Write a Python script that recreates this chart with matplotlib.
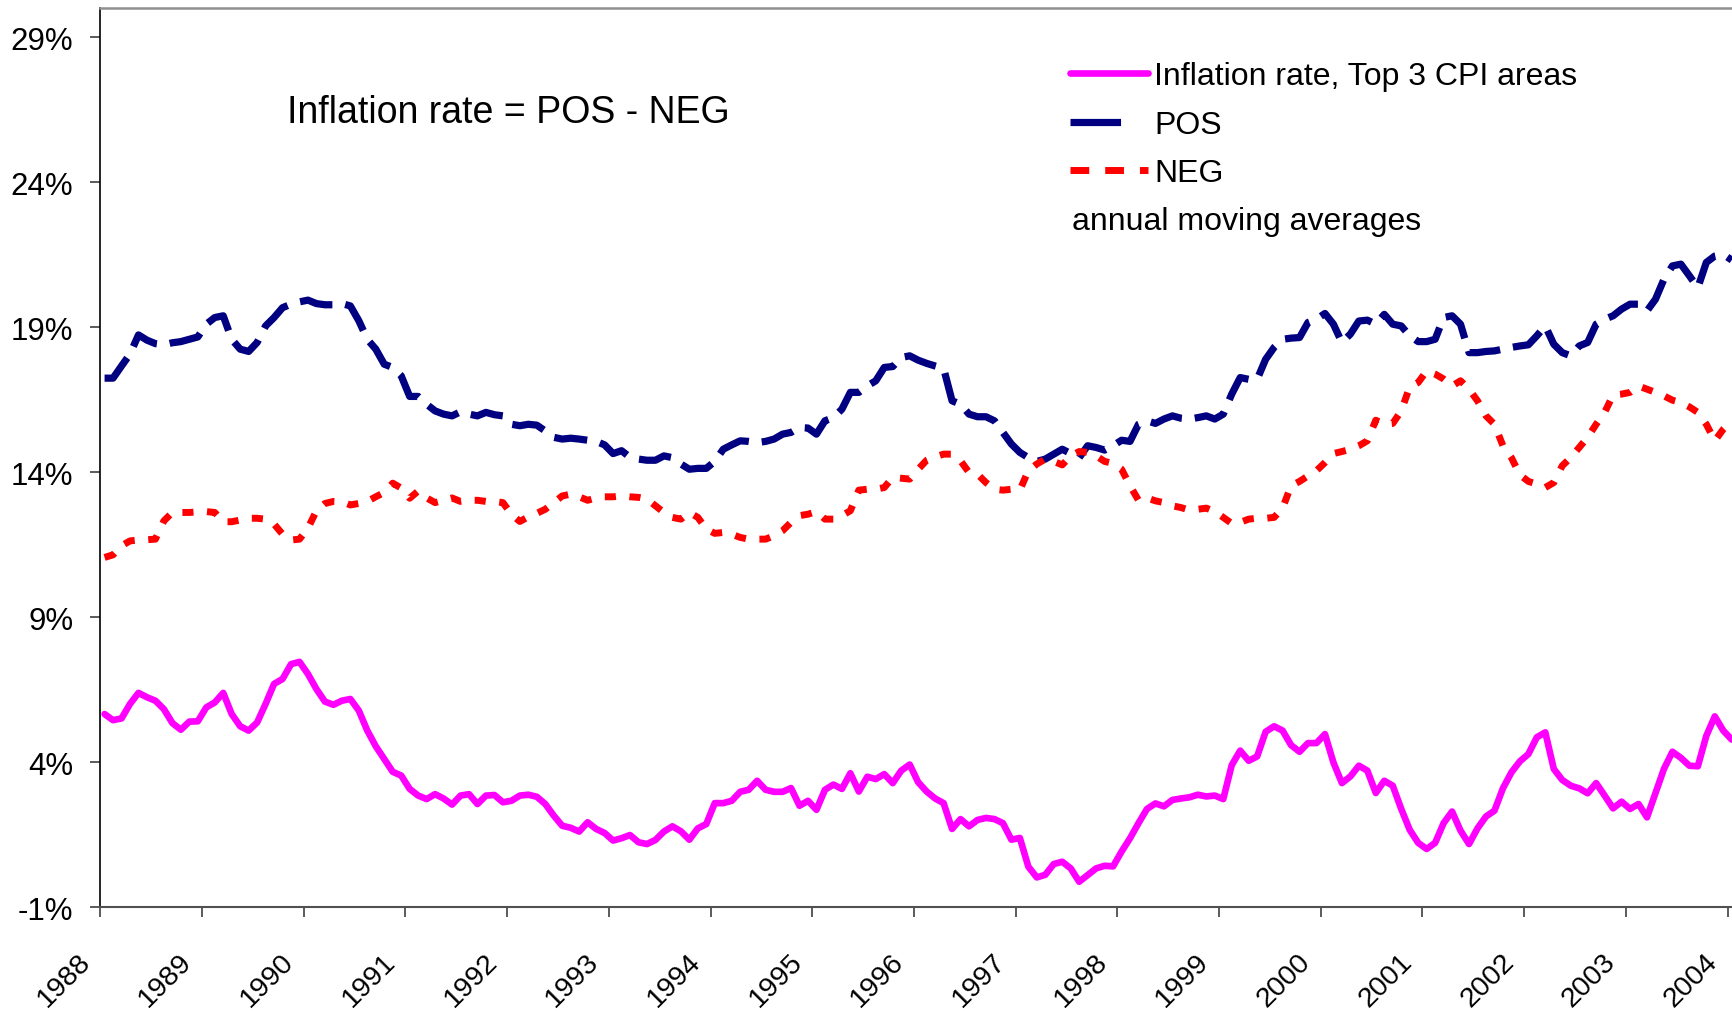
import numpy as np
import matplotlib.pyplot as plt
from matplotlib.lines import Line2D
from matplotlib.transforms import ScaledTranslation

plt.rcParams['font.family'] = ['Liberation Sans', 'DejaVu Sans']

# monthly values, Jan 1988 .. Jan 2004 (percent, annual moving averages)
inflation = [
    5.66, 5.45, 5.51, 6.01, 6.39, 6.24, 6.12, 5.83, 5.35, 5.12, 5.40, 5.41,
    5.89, 6.06, 6.39, 5.66, 5.24, 5.09, 5.37, 6.01, 6.70, 6.87, 7.38, 7.46,
    7.04, 6.52, 6.09, 5.98, 6.12, 6.18, 5.78, 5.09, 4.55, 4.11, 3.67, 3.54,
    3.08, 2.85, 2.73, 2.90, 2.75, 2.54, 2.85, 2.90, 2.56, 2.85, 2.87, 2.62,
    2.67, 2.85, 2.88, 2.81, 2.56, 2.16, 1.81, 1.74, 1.61, 1.93, 1.70, 1.56,
    1.30, 1.38, 1.49, 1.24, 1.18, 1.32, 1.61, 1.79, 1.62, 1.33, 1.72, 1.87,
    2.59, 2.59, 2.67, 2.98, 3.05, 3.36, 3.05, 2.98, 2.98, 3.11, 2.50, 2.67,
    2.36, 3.05, 3.23, 3.08, 3.62, 2.99, 3.50, 3.42, 3.59, 3.28, 3.71, 3.92,
    3.31, 2.99, 2.75, 2.59, 1.70, 2.04, 1.79, 2.01, 2.08, 2.04, 1.90, 1.33,
    1.39, 0.40, 0.03, 0.12, 0.49, 0.57, 0.34, -0.12, 0.11, 0.34, 0.43, 0.41,
    0.92, 1.38, 1.90, 2.39, 2.58, 2.48, 2.70, 2.75, 2.79, 2.88, 2.82, 2.85,
    2.73, 3.90, 4.40, 4.05, 4.20, 5.05, 5.24, 5.09, 4.59, 4.36, 4.66, 4.66,
    4.97, 3.99, 3.28, 3.51, 3.88, 3.71, 2.94, 3.36, 3.19, 2.39, 1.67, 1.22,
    1.01, 1.22, 1.90, 2.30, 1.64, 1.18, 1.72, 2.13, 2.33, 3.10, 3.65, 4.03,
    4.28, 4.86, 5.03, 3.77, 3.39, 3.19, 3.10, 2.93, 3.28, 2.85, 2.41, 2.64,
    2.39, 2.56, 2.10, 2.94, 3.77, 4.36, 4.15, 3.88, 3.86, 4.91, 5.58, 5.09,
    4.78,
]
pos = [
    17.24, 17.24, 17.66, 18.07, 18.73, 18.55, 18.43, 18.39, 18.46, 18.50, 18.58, 18.66,
    19.10, 19.33, 19.39, 18.58, 18.24, 18.16, 18.47, 19.04, 19.33, 19.67, 19.79, 19.87,
    19.93, 19.81, 19.77, 19.77, 19.81, 19.73, 19.22, 18.58, 18.24, 17.72, 17.61, 17.32,
    16.61, 16.61, 16.34, 16.11, 16.00, 15.94, 16.08, 16.00, 15.94, 16.06, 15.98, 15.94,
    15.65, 15.60, 15.65, 15.62, 15.42, 15.20, 15.14, 15.17, 15.14, 15.10, 15.06, 14.94,
    14.64, 14.74, 14.51, 14.45, 14.41, 14.41, 14.56, 14.50, 14.28, 14.10, 14.13, 14.13,
    14.37, 14.79, 14.94, 15.08, 15.06, 15.02, 15.06, 15.14, 15.31, 15.37, 15.54, 15.52,
    15.31, 15.77, 15.88, 16.17, 16.75, 16.75, 16.97, 17.15, 17.61, 17.64, 17.95, 18.01,
    17.86, 17.75, 17.66, 17.58, 16.46, 16.34, 16.00, 15.91, 15.91, 15.77, 15.37, 14.97,
    14.68, 14.50, 14.37, 14.45, 14.62, 14.79, 14.64, 14.50, 14.91, 14.85, 14.76, 14.91,
    15.10, 15.06, 15.65, 15.77, 15.68, 15.83, 15.94, 15.86, 15.83, 15.88, 15.94, 15.83,
    16.00, 16.69, 17.26, 17.20, 17.20, 17.89, 18.30, 18.58, 18.62, 18.64, 19.16, 19.27,
    19.47, 19.10, 18.47, 18.76, 19.21, 19.24, 19.10, 19.44, 19.10, 19.04, 18.70, 18.50,
    18.50, 18.58, 19.33, 19.39, 19.10, 18.12, 18.12, 18.16, 18.18, 18.24, 18.30, 18.35,
    18.39, 18.70, 19.04, 18.41, 18.12, 18.01, 18.35, 18.47, 19.10, 19.27, 19.39, 19.62,
    19.79, 19.79, 19.56, 19.96, 20.65, 21.11, 21.17, 20.77, 20.36, 21.23, 21.45, 21.51,
    21.31,
]
neg = [
    11.06, 11.15, 11.46, 11.63, 11.66, 11.67, 11.69, 12.32, 12.61, 12.61, 12.61, 12.63,
    12.64, 12.61, 12.29, 12.29, 12.35, 12.41, 12.41, 12.38, 12.21, 11.86, 11.66, 11.69,
    12.07, 12.67, 12.92, 12.99, 12.98, 12.87, 12.92, 12.99, 13.15, 13.30, 13.62, 13.45,
    13.10, 13.35, 13.11, 12.95, 13.03, 13.11, 12.99, 13.03, 13.03, 12.99, 12.99, 12.95,
    12.55, 12.30, 12.46, 12.58, 12.72, 12.95, 13.18, 13.24, 13.15, 13.03, 13.11, 13.15,
    13.15, 13.18, 13.15, 13.13, 13.07, 12.84, 12.61, 12.44, 12.38, 12.61, 12.44, 12.04,
    11.89, 11.92, 11.86, 11.75, 11.69, 11.69, 11.69, 11.81, 11.98, 12.27, 12.50, 12.55,
    12.64, 12.38, 12.38, 12.50, 12.67, 13.38, 13.41, 13.41, 13.47, 13.82, 13.79, 13.76,
    14.10, 14.41, 14.53, 14.62, 14.62, 14.39, 13.99, 13.93, 13.64, 13.41, 13.38, 13.41,
    13.38, 14.05, 14.28, 14.45, 14.37, 14.25, 14.56, 14.71, 14.68, 14.56, 14.37, 14.30,
    14.10, 13.53, 13.03, 13.11, 13.01, 12.95, 12.84, 12.78, 12.69, 12.72, 12.76, 12.64,
    12.44, 12.23, 12.27, 12.38, 12.41, 12.41, 12.44, 12.76, 13.53, 13.68, 13.87, 14.05,
    14.33, 14.64, 14.71, 14.79, 14.91, 15.08, 15.79, 15.65, 15.68, 16.11, 16.94, 17.09,
    17.49, 17.38, 17.21, 16.97, 17.15, 16.86, 16.46, 15.94, 15.65, 14.91, 14.50, 13.91,
    13.68, 13.59, 13.47, 13.64, 14.22, 14.50, 14.85, 15.20, 15.65, 16.06, 16.66, 16.69,
    16.75, 16.97, 16.86, 16.75, 16.63, 16.48, 16.40, 16.25, 16.06, 15.65, 15.08, 15.48,
    15.77,
]
labels = ['Inflation rate, Top 3 CPI areas', 'POS', 'NEG']
years = list(range(1988, 2005))
yticks = [-1, 4, 9, 14, 19, 24, 29]

months = np.arange(len(inflation))
x = 1988 + (months + 0.5) / 12

fig = plt.figure(figsize=(17.33, 10.12), dpi=100)
ax = fig.add_axes([0.0579, 0.1025, 0.9421, 0.8886])

ax.plot(x, inflation, color='#FF00FF', lw=4.8, solid_joinstyle='round', solid_capstyle='round')
ax.plot(x, pos, color='#000080', lw=5.2, dashes=(4.6, 1.8))
ax.plot(x, neg, color='#FF0000', lw=5.0, dashes=(1.6, 1.95))

ax.set_xlim(1988, 2004.054)
ax.set_ylim(-1, 30)
ax.set_xticks(years)
ax.set_xticklabels([str(y) for y in years], rotation=45, ha='right', va='center_baseline',
                   rotation_mode='anchor', fontsize=20.5)
ax.set_yticks(yticks)
ax.set_yticklabels(['%d%%' % v for v in yticks], fontsize=22.5)

ax.tick_params(axis='y', direction='out', length=6.9, width=1.2, color='#404040', pad=12.5)
ax.tick_params(axis='x', direction='out', length=7.2, width=1.2, color='#404040', pad=27)

ax.spines['right'].set_visible(False)
ax.spines['left'].set_color('black')
ax.spines['left'].set_linewidth(1.2)
ax.spines['bottom'].set_color('#505050')
ax.spines['bottom'].set_linewidth(1.5)
ax.spines['top'].set_color('#909090')
ax.spines['top'].set_linewidth(1.8)

for lbl in ax.get_xticklabels():
    lbl.set_transform(lbl.get_transform() + ScaledTranslation(-0.16, 0, fig.dpi_scale_trans))

# legend keys drawn like the original (one long dash / two short dashes)
handles = [
    Line2D([], [], color='#FF00FF', lw=4.8, solid_capstyle='round'),
    Line2D([], [], color='#000080', lw=5.2, dashes=(7.0, 5.0)),
    Line2D([], [], color='#FF0000', lw=5.0, dashes=(2.7, 2.3)),
]
ax.legend(handles, labels, loc='upper left', bbox_to_anchor=(0.6174, 0.9385),
          bbox_transform=fig.transFigure, frameon=False, fontsize=23, borderpad=0,
          borderaxespad=0, handlelength=2.44, handletextpad=0.19, labelspacing=0.58)

fig.text(0.6186, 0.7727, 'annual moving averages', fontsize=23, va='baseline')
fig.text(0.1656, 0.8788, 'Inflation rate = POS - NEG', fontsize=27, va='baseline')

fig.savefig('out.png', dpi=100)
